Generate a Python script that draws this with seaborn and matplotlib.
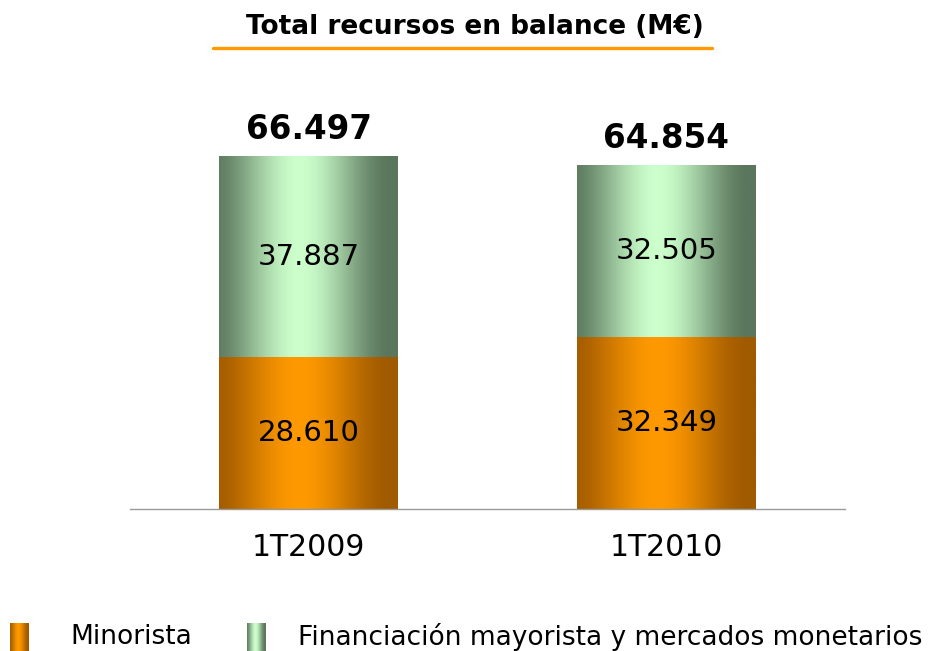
import numpy as np
import pandas as pd
import matplotlib
matplotlib.use("Agg")
import matplotlib.pyplot as plt
from matplotlib.lines import Line2D
import seaborn as sns

# Data
periods = ["1T2009", "1T2010"]
minorista = [28610, 32349]
mayorista = [37887, 32505]
totals = [66497, 64854]
series_names = ["Minorista", "Financiación mayorista y mercados monetarios"]

def fmt(v):
    return f"{v:,}".replace(",", ".")

# colours: (edge, centre) of the horizontal cylinder-like gradient
orange_edge, orange_mid = np.array([160, 90, 0]) / 255, np.array([255, 153, 0]) / 255
green_edge, green_mid = np.array([90, 118, 92]) / 255, np.array([204, 255, 204]) / 255

def gradient(edge, mid, n=256):
    t = np.linspace(0, 1, n)
    f = np.clip(1 - np.abs(t - 0.45) / 0.52, 0, 1)
    f = f * f * (3 - 2 * f)  # smoothstep
    img = edge[None, :] + (mid - edge)[None, :] * f[:, None]
    return img[None, :, :]

sns.set_style("white")
plt.rcParams["font.family"] = ["DejaVu Sans"]
plt.rcParams["text.color"] = "black"
plt.rcParams["xtick.color"] = "black"
plt.rcParams["xtick.labelcolor"] = "black"

df = pd.DataFrame({"periodo": periods, "minorista": minorista,
                   "mayorista": mayorista, "total": totals})

fig = plt.figure(figsize=(9.33, 6.51), dpi=100)
ax = fig.add_axes([130 / 933, 142 / 651, 715 / 933, 409 / 651])

sns.barplot(data=df, x="periodo", y="total", color="#ccffcc", width=0.5, ax=ax)
sns.barplot(data=df, x="periodo", y="minorista", color="#ff9900", width=0.5, ax=ax)

# replace flat fills with gradients
for i, p in enumerate(ax.patches):
    edge, mid = (green_edge, green_mid) if i < 2 else (orange_edge, orange_mid)
    x0, y0 = p.get_x(), p.get_y()
    w, h = p.get_width(), p.get_height()
    im = ax.imshow(gradient(edge, mid), extent=[x0, x0 + w, y0, y0 + h],
                   aspect="auto", zorder=p.get_zorder(), interpolation="bilinear")
    im.set_clip_path(p)
    p.set_facecolor("none")
    p.set_edgecolor("none")

ax.set_xlim(-0.5, 1.5)
ax.set_ylim(0, 77040)

for i in range(len(periods)):
    ax.text(i, minorista[i] / 2, fmt(minorista[i]), ha="center", va="center",
            fontsize=21, color="black", zorder=5)
    ax.text(i, minorista[i] + mayorista[i] / 2, fmt(mayorista[i]), ha="center",
            va="center", fontsize=21, color="black", zorder=5)
    ax.annotate(fmt(totals[i]), (i, totals[i]), xytext=(0, 7), textcoords="offset points",
                ha="center", va="bottom", fontsize=23.5, fontweight="bold", color="black")

ax.set_xlabel("")
ax.set_ylabel("")
ax.set_yticks([])
ax.tick_params(axis="x", length=0, pad=17, labelsize=21.5, labelcolor="black")
for s in ["top", "left", "right"]:
    ax.spines[s].set_visible(False)
ax.spines["bottom"].set_color("#999999")
ax.spines["bottom"].set_linewidth(1)

# title with orange underline
fig.text(475 / 933, 1 - 27 / 651, "Total recursos en balance (M€)", ha="center",
         va="center", fontsize=19, fontweight="bold", color="black")
fig.add_artist(Line2D([213 / 933, 712 / 933], [1 - 48 / 651, 1 - 48 / 651],
                      color="#ff9900", linewidth=2.4, transform=fig.transFigure))

# legend
leg_items = [(10, 70, orange_edge, orange_mid), (247, 298, green_edge, green_mid)]
for (px, tx, edge, mid), name in zip(leg_items, series_names):
    lax = fig.add_axes([px / 933, 0, 18 / 933, 28 / 651])
    lax.imshow(gradient(edge, mid), aspect="auto")
    lax.axis("off")
    fig.text(tx / 933, 1 - 637 / 651, name, ha="left", va="center",
             fontsize=19, color="black")

fig.savefig("out.png", dpi=100)
